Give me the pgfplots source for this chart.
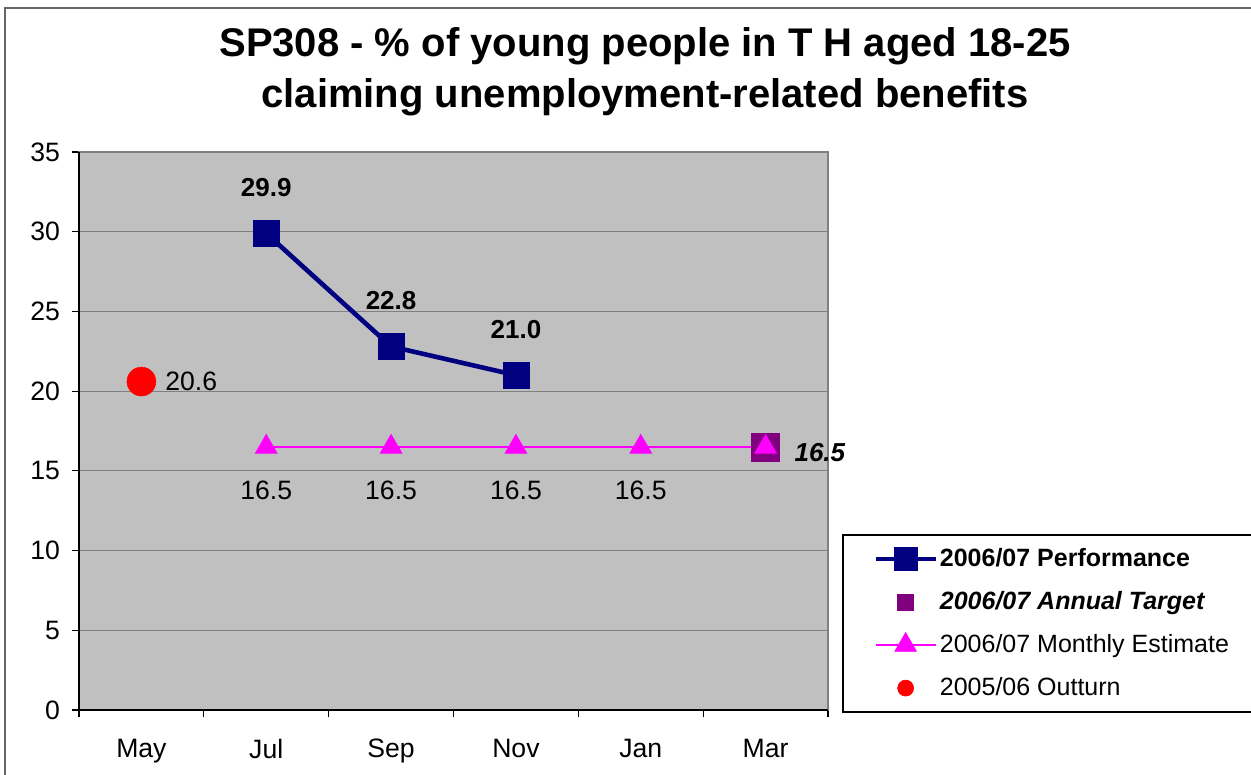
\documentclass[border=0pt]{standalone}
\usepackage{fontspec}
\setmainfont{Liberation Sans}
\usepackage{pgfplots}
\pgfplotsset{compat=1.18}

\definecolor{plotgray}{HTML}{C0C0C0}
\definecolor{gridgray}{HTML}{808080}
\definecolor{perfnavy}{HTML}{000080}
\definecolor{targetpurple}{HTML}{800080}
\definecolor{estmagenta}{HTML}{FF00FF}

% 1 px of the reference = 0.5pt
\newcommand{\lblfont}{\fontsize{13.3}{16}\selectfont}
\newcommand{\bldfont}{\bfseries\fontsize{13}{16}\selectfont}

\begin{document}
\begin{tikzpicture}
\path[use as bounding box] (0,0) rectangle (625.5pt,387.5pt);
% outer chart border (right and bottom edges fall outside the picture)
\draw[line width=1pt, black!60] (2.5pt,-20pt) rectangle (660pt,383.5pt);

% title
\node[anchor=base, font=\bfseries\fontsize{20}{24}\selectfont] at (322.5pt,359pt)
  {SP308 - \% of young people in T H aged 18-25};
\node[anchor=base, font=\bfseries\fontsize{20}{24}\selectfont] at (322.5pt,333.5pt)
  {claiming unemployment-related benefits};

% legend box
\draw[line width=0.7pt, black] (421.5pt,31.5pt) rectangle (660pt,120pt);

\begin{axis}[
    at={(39.5pt,32.5pt)}, anchor=south west,
    scale only axis, width=374.5pt, height=279pt,
    xmin=-0.5, xmax=5.5, ymin=0, ymax=35,
    xtick={-0.5,0.5,...,5.5},
    x tick label as interval,
    xticklabels={May,Jul,Sep,Nov,Jan,Mar},
    ytick={0,5,...,35},
    tick align=outside, tick pos=left,
    major tick length=3.5pt,
    ymajorgrids, grid style={gridgray, line width=0.5pt},
    axis background/.style={fill=plotgray},
    axis line style={gridgray, line width=0.7pt},
    tick style={black, line width=0.6pt},
    ticklabel style={font=\lblfont},
    /pgf/number format/assume math mode=true,
    xticklabel style={yshift=-7.5pt},
    yticklabel style={xshift=-2.5pt},
    clip=false,
    legend cell align=left,
    legend image code/.code={
        \draw[mark repeat=2, mark phase=2] plot coordinates {(0pt,0pt) (15pt,0pt) (30pt,0pt)};
    },
    legend style={
        at={(1.06,0.298)}, anchor=north west,
        draw=none, fill=none, inner sep=0pt,
        font=\fontsize{12.5}{15}\selectfont,
        nodes={inner sep=1pt, text height=10pt, text depth=3pt},
        row sep=6.5pt,
    },
]

% left and bottom axis lines in black
\draw[black, line width=0.7pt] (rel axis cs:0,1) -- (rel axis cs:0,0) -- (rel axis cs:1,0);

\addplot[perfnavy, line width=2.3pt, mark=square*, mark size=6.5pt,
    mark options={line width=0.3pt},
    legend image post style={mark size=5.7pt},
    nodes near coords={\pgfmathprintnumber[fixed,fixed zerofill,precision=1]{\pgfplotspointmeta}},
    nodes near coords style={text=black, font=\bldfont, anchor=center, yshift=23pt}]
    coordinates {(1,29.9) (2,22.8) (3,21.0)};
\addlegendentry{\textbf{2006/07 Performance}}

\addplot[only marks, targetpurple, mark=square*, mark size=7pt,
    mark options={line width=0.3pt},
    legend image post style={mark size=4pt},
    nodes near coords={\pgfmathprintnumber[fixed,fixed zerofill,precision=1]{\pgfplotspointmeta}},
    nodes near coords style={text=black, font=\bfseries\itshape\fontsize{13}{16}\selectfont, anchor=west, xshift=11pt, yshift=-3pt}]
    coordinates {(5,16.5)};
\addlegendentry{\textbf{\textit{2006/07 Annual Target}}}

\addplot[estmagenta, line width=1.1pt, mark=triangle*, mark size=6.3pt,
    mark options={line width=0.3pt}]
    coordinates {(1,16.5) (2,16.5) (3,16.5) (4,16.5) (5,16.5)};
\addlegendentry{2006/07 Monthly Estimate}

\addplot[only marks, red, mark=*, mark size=7.2pt,
    mark options={line width=0.3pt},
    legend image post style={mark size=4pt},
    nodes near coords={\pgfmathprintnumber[fixed,fixed zerofill,precision=1]{\pgfplotspointmeta}},
    nodes near coords style={text=black, font=\lblfont, anchor=west, xshift=8.5pt}]
    coordinates {(0,20.6)};
\addlegendentry{2005/06 Outturn}

% labels under the monthly estimate points
\addplot[draw=none, mark=none, forget plot,
    nodes near coords={\pgfmathprintnumber[fixed,fixed zerofill,precision=1]{\pgfplotspointmeta}},
    nodes near coords style={text=black, font=\lblfont, anchor=center, yshift=-21.5pt}]
    coordinates {(1,16.5) (2,16.5) (3,16.5) (4,16.5)};

\end{axis}
\end{tikzpicture}
\end{document}
